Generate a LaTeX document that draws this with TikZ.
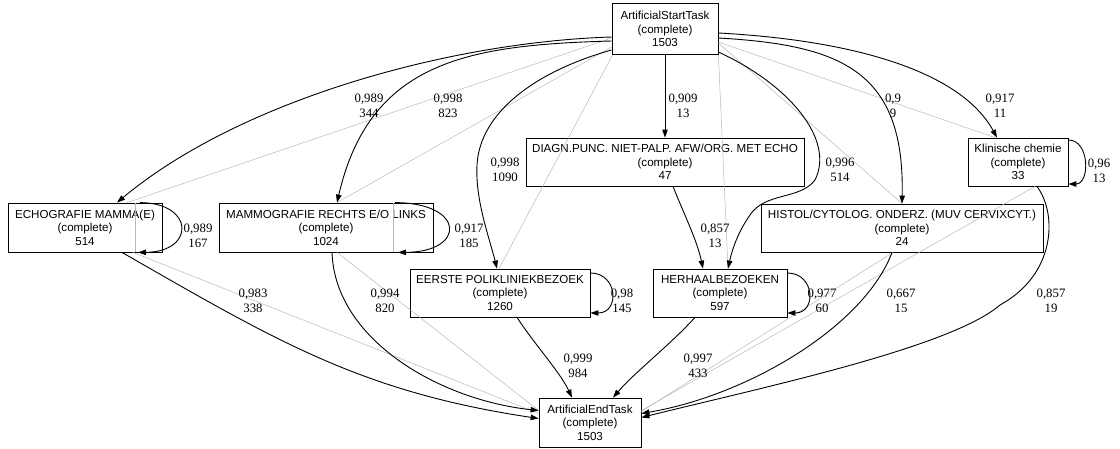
\documentclass[tikz,border=0pt]{standalone}
\usepackage{fontspec}
\setmainfont{Liberation Serif}
\newfontfamily\nodesans{Liberation Sans}
\usetikzlibrary{arrows.meta,calc}
\newcommand\nodefontsize{\nodesans\fontsize{11.6}{13.5}\selectfont}
\newcommand\labfontsize{\fontsize{12.8}{15}\selectfont}
\begin{document}
\begin{tikzpicture}[x=1pt,y=-1pt,
  box/.style={draw,line width=0.8pt,inner sep=0pt,align=center,font=\nodefontsize,minimum height=49pt},
  lab/.style={align=center,inner sep=0pt,font=\labfontsize},
  edge/.style={draw,line width=0.9pt,-{Triangle[length=8pt,width=5.5pt]}},
  ghost/.style={draw,line width=0.5pt,black!28}]
\useasboundingbox (0,0) rectangle (1120,449);

% nodes
\node[box,minimum width=106pt,minimum height=51pt] (start) at (665,29) {ArtificialStartTask\\(complete)\\1503};
\node[box,minimum width=278pt,minimum height=48pt] (diagn) at (665,162) {DIAGN.PUNC. NIET-PALP. AFW/ORG. MET ECHO\\(complete)\\47};
\node[box,minimum width=100pt,minimum height=48pt] (klin) at (1018,162) {Klinische chemie\\(complete)\\33};
\node[box,minimum width=154pt] (echo) at (85,227.5) {ECHOGRAFIE MAMMA(E)\\(complete)\\514};
\node[box,minimum width=214pt] (mammo) at (326,227.5) {MAMMOGRAFIE RECHTS E/O LINKS\\(complete)\\1024};
\node[box,minimum width=282pt,minimum height=48pt] (histol) at (902,228) {HISTOL/CYTOLOG. ONDERZ. (MUV CERVIXCYT.)\\(complete)\\24};
\node[box,minimum width=180pt,minimum height=48pt] (eerste) at (500,293) {EERSTE POLIKLINIEKBEZOEK\\(complete)\\1260};
\node[box,minimum width=134pt,minimum height=48pt] (herhaal) at (720,293) {HERHAALBEZOEKEN\\(complete)\\597};
\node[box,minimum width=102pt,minimum height=49pt] (end) at (590,422.5) {ArtificialEndTask\\(complete)\\1503};

% gray lines
\draw[ghost] ($(start.west)+(0,9)$) -- ($(echo.north)+(42,0)$);
\draw[ghost] ($(start.west)+(0,18)$) -- ($(mammo.north)+(11,0)$);
\draw[ghost] ($(start.south west)+(1,0)$) -- ($(eerste.north)+(-1,0)$);
\draw[ghost] (start.south east) -- ($(herhaal.north)+(8,0)$);
\draw[ghost] ($(start.east)+(0,14)$) -- (histol.north);
\draw[ghost] ($(start.east)+(0,13)$) -- ($(klin.north)+(-23,0)$);
\draw[ghost] ($(echo.north)+(50,0)$) -- ($(echo.south)+(50,0)$);
\draw[ghost] ($(mammo.north)+(67,0)$) -- ($(mammo.south)+(67,0)$);
\draw[ghost] ($(echo.south)+(48,0)$) -- ($(end.west)+(0,-9)$);
\draw[ghost] ($(mammo.south)+(11,0)$) -- ($(end.west)+(0,-12)$);
\draw[ghost] ($(histol.south)+(-9,0)$) -- ($(end.east)+(0,-11)$);
\draw[ghost] ($(klin.south)+(17,0)$) -- ($(end.east)+(0,-12)$);

% black edges from start
\draw[edge] ($(start.west)+(0,8)$) .. controls (450,42) and (240,100) .. ($(echo.north)+(32,0)$);
\draw[edge] ($(start.west)+(0,12)$) .. controls (470,45) and (370,60) .. ($(mammo.north)+(11,0)$);
\draw[edge] ($(start.west)+(0,21)$) .. controls (540,70) and (480,110) .. (477,165) .. controls (475,200) and (490,240) .. ($(eerste.north)+(-3,0)$);
\draw[edge] (start.south) -- (diagn.north);
\draw[edge] ($(start.east)+(0,23)$) .. controls (790,85) and (835,140) .. (815,180) .. controls (800,200) and (765,192) .. (750,215) .. controls (738,232) and (732,250) .. ($(herhaal.north)+(8,0)$);
\draw[edge] ($(start.east)+(0,9)$) .. controls (840,45) and (905,70) .. (histol.north);
\draw[edge] ($(start.east)+(0,4)$) .. controls (850,40) and (960,70) .. ($(klin.north)+(-21,0)$);
\draw[edge] ($(diagn.south)+(8,0)$) .. controls (683,212) and (697,240) .. ($(herhaal.north)+(-17,0)$);

% self loops
\draw[edge] ($(echo.north)+(55,0)$) .. controls (195,203) and (195,252) .. ($(echo.south)+(53,0)$);
\draw[edge] ($(mammo.north)+(69,0)$) .. controls (466,203) and (466,252) .. ($(mammo.south)+(72,0)$);
\draw[edge] ($(eerste.east)+(0,-20)$) .. controls (618,273) and (620,313) .. ($(eerste.east)+(0,20)$);
\draw[edge] ($(herhaal.east)+(0,-20)$) .. controls (815,273) and (817,313) .. ($(herhaal.east)+(0,20)$);
\draw[edge] ($(klin.east)+(0,-22)$) .. controls (1090,140) and (1090,184) .. ($(klin.east)+(0,22)$);

% edges to end
\draw[edge] ($(echo.south)+(37,0)$) .. controls (278,342) and (362,392) .. ($(end.west)+(0,-4)$);
\draw[edge] ($(mammo.south)+(6,0)$) .. controls (335,340) and (440,400) .. ($(end.west)+(0,-12)$);
\draw[edge] ($(eerste.south)+(17,0)$) .. controls (535,345) and (560,372) .. ($(end.north)+(-18,0)$);
\draw[edge] ($(herhaal.south)+(-25,0)$) .. controls (670,345) and (635,372) .. ($(end.north)+(23,0)$);
\draw[edge] ($(histol.south)+(-10,0)$) .. controls (865,325) and (750,395) .. ($(end.east)+(0,-9)$);
\draw[edge] ($(klin.south)+(19,0)$) .. controls (1058,215) and (1055,275) .. (1000,305) .. controls (950,348) and (760,388) .. ($(end.east)+(0,-5)$);

% labels
\node[lab] (l1) at (369,105.5) {0,989\\344};
\node[lab] (l2) at (448,105.5) {0,998\\823};
\node[lab] (l3) at (683,105.5) {0,909\\13};
\node[lab] (l4) at (893,105.5) {0,9\\9};
\node[lab] (l5) at (1000,105.5) {0,917\\11};
\node[lab] (l6) at (505,170) {0,998\\1090};
\node[lab] (l7) at (840,170) {0,996\\514};
\node[lab] (l8) at (1099,170.5) {0,96\\13};
\node[lab] (l9) at (198,235.5) {0,989\\167};
\node[lab] (l10) at (469,235.5) {0,917\\185};
\node[lab] (l11) at (715,235.5) {0,857\\13};
\node[lab] (l12) at (622,300.5) {0,98\\145};
\node[lab] (l13) at (822,300.5) {0,977\\60};
\node[lab] (l14) at (901,300.5) {0,667\\15};
\node[lab] (l15) at (1051,300.5) {0,857\\19};
\node[lab] (l16) at (253,300.5) {0,983\\338};
\node[lab] (l17) at (385,301) {0,994\\820};
\node[lab] (l18) at (578,365.5) {0,999\\984};
\node[lab] (l19) at (698,365.5) {0,997\\433};
\end{tikzpicture}
\end{document}
